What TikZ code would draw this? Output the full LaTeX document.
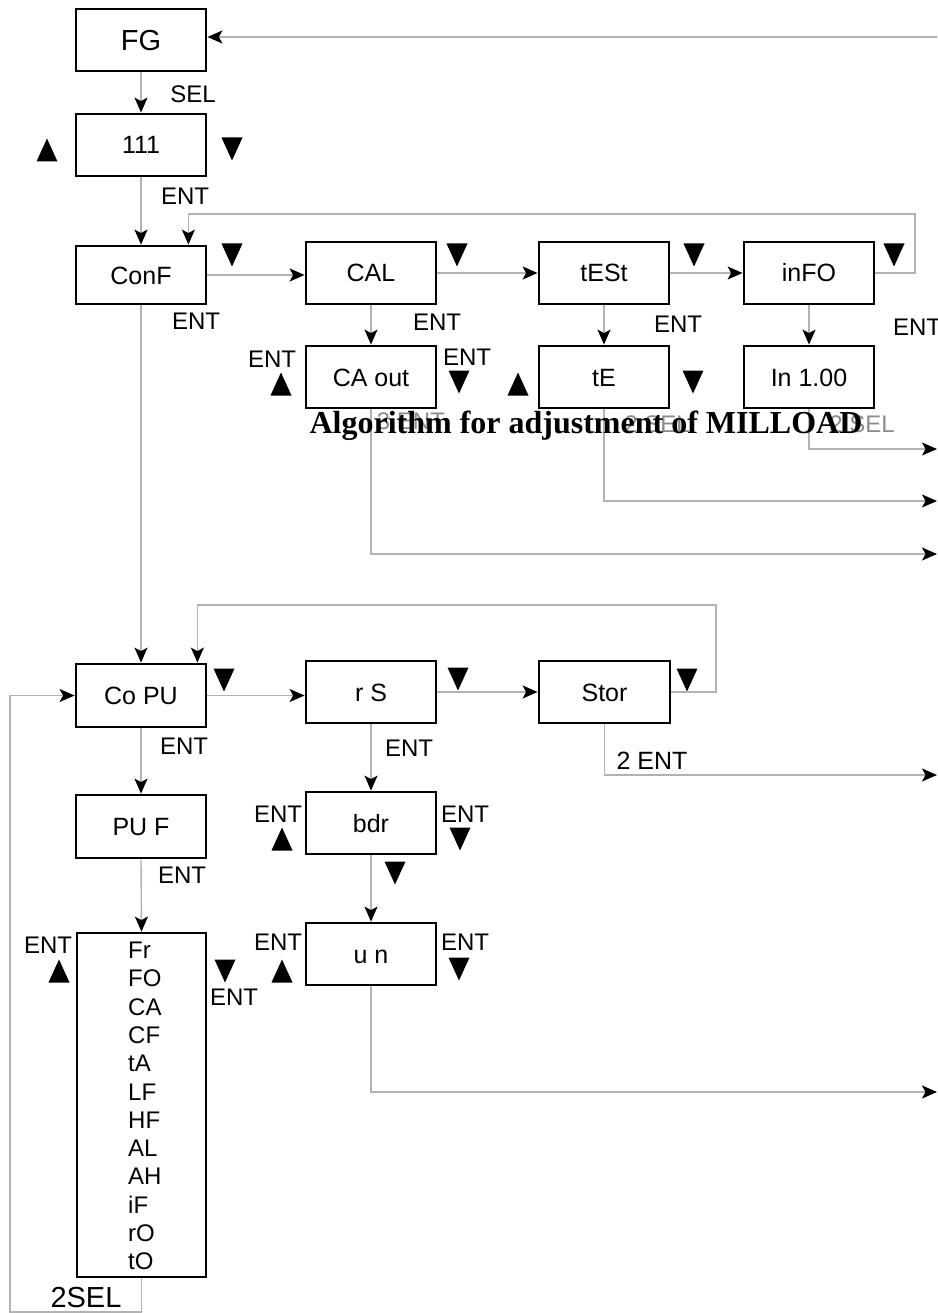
\documentclass[tikz,border=0pt]{standalone}
\usepackage{fontspec}
\setmainfont{Liberation Sans}
\newfontfamily\titlefont{Liberation Serif}
\usetikzlibrary{arrows.meta,calc}
\begin{document}
\begin{tikzpicture}[x=1pt,y=-1pt,
 box/.style={draw=black,line width=2.8pt,minimum width=130pt,minimum height=62pt,inner sep=0pt,font=\fontsize{25}{25}\selectfont,text height=18pt,text depth=0pt},
 lbl/.style={inner sep=0pt,font=\fontsize{24}{24}\selectfont,text height=17.2pt,text depth=0pt},
 biglbl/.style={inner sep=0pt,font=\fontsize{29}{29}\selectfont,text height=20.8pt,text depth=0pt},
 faint/.style={lbl,text=black!45},
 item/.style={inner sep=0pt,font=\fontsize{24}{24}\selectfont},
 conn/.style={draw=gray!60,line width=1.4pt,-{Stealth[black,length=15pt,width=13pt,inset=3.5pt]}},
 wire/.style={draw=gray!60,line width=1.4pt},
 uptri/.pic={\fill (-10.5,11.5) -- (10.5,11.5) -- (0,-11.5) -- cycle;},
 dntri/.pic={\fill (-10.5,-11.5) -- (10.5,-11.5) -- (0,11.5) -- cycle;}
]
\fill[white] (0,0) rectangle (937,1313);
\useasboundingbox (0,0) rectangle (937,1313);

% boxes
\node[box,font=\fontsize{29}{29}\selectfont,text height=20.8pt] (FG) at (141,40) {FG};
\node[box] (n111) at (141,145) {111};
\node[box,minimum height=58pt] (ConF) at (141,275) {ConF};
\node[box] (CAL) at (371,273) {CAL};
\node[box] (tESt) at (604,273) {tESt};
\node[box] (inFO) at (809,273) {inFO};
\node[box] (CAout) at (371,377) {CA out};
\node[box] (tE) at (604,377) {tE};
\node[box] (In) at (809,377) {In 1.00};
\node[box,minimum height=63pt] (CoPU) at (141,695.5) {Co PU};
\node[box] (rS) at (371,692) {r S};
\node[box,minimum width=131pt] (Stor) at (604.5,692) {Stor};
\node[box,minimum height=63pt] (PUF) at (141,826.5) {PU F};
\node[box] (bdr) at (371,823) {bdr};
\node[box] (un) at (371,954) {u n};
\node[box,minimum width=129pt,minimum height=344pt] (list) at (141.5,1105) {};
\foreach \t [count=\i from 0] in {Fr,FO,CA,CF,tA,LF,HF,AL,AH,iF,rO,tO}
  \node[item,anchor=base west] (it\i) at (128,958.5+28.3*\i) {\t};

% labels
\node[lbl] (lSEL) at (193,94) {SEL};
\node[lbl] (l111) at (185,196) {ENT};
\node[lbl] (lConF) at (196,321) {ENT};
\node[lbl] (lCAL) at (437,322) {ENT};
\node[lbl] (lCAoL) at (272,359) {ENT};
\node[lbl] (lCAoR) at (467,357) {ENT};
\node[lbl] (ltESt) at (678,324) {ENT};
\node[lbl] (linFO) at (917,327) {ENT};
\node[lbl] (lCoPU) at (184,746) {ENT};
\node[lbl] (lrS) at (409,748) {ENT};
\node[lbl] (lbdrL) at (278,814) {ENT};
\node[lbl] (lbdrR) at (465,814) {ENT};
\node[lbl] (lPUF) at (182,875) {ENT};
\node[lbl,font=\fontsize{25}{25}\selectfont] (lStor) at (652,761) {2 ENT};
\node[lbl] (llistL) at (48,945) {ENT};
\node[lbl] (llistR) at (234,997) {ENT};
\node[lbl] (lunL) at (278,942) {ENT};
\node[lbl] (lunR) at (465,942) {ENT};
\node[biglbl] (l2SEL) at (86,1297) {2SEL};
\node[faint] (f1) at (411,421) {3 ENT};
\node[faint] (f2) at (657,424) {2 SEL};
\node[faint] (f3) at (862,424) {2 SEL};

% triangles
\pic at (47,150) {uptri};
\pic at (232,149) {dntri};
\pic at (232,255) {dntri};
\pic at (457,255) {dntri};
\pic at (694,255) {dntri};
\pic at (894,255) {dntri};
\pic at (281,384) {uptri};
\pic at (459,382) {dntri};
\pic at (518,384) {uptri};
\pic at (693,382) {dntri};
\pic at (224,680) {dntri};
\pic at (458,679) {dntri};
\pic at (687,680) {dntri};
\pic at (282,839) {uptri};
\pic at (460,839) {dntri};
\pic at (395,873) {dntri};
\pic at (59,971) {uptri};
\pic at (225,971) {dntri};
\pic at (282,971) {uptri};
\pic at (459,969) {dntri};

% connectors
\coordinate (inFG) at (937,37);
\draw[conn] (inFG) -- (inFG -| FG.east);
\draw[conn] (FG.south) -- (n111.north);
\draw[conn] (n111.south) -- (ConF.north);
\draw[conn] (ConF.east) -- (ConF.east -| CAL.west);
\draw[conn] (CAL.east) -- (tESt.west);
\draw[conn] (tESt.east) -- (inFO.west);
\coordinate (loopA) at (915,214);
\draw[conn] (inFO.east) -| (loopA) -| ([xshift=-19pt]ConF.north east);
\draw[conn] (CAL.south) -- (CAout.north);
\draw[conn] (tESt.south) -- (tE.north);
\draw[conn] (inFO.south) -- (In.north);
\coordinate (o1) at (937,449);
\coordinate (o2) at (937,501);
\coordinate (o3) at (937,554);
\coordinate (o4) at (937,775);
\coordinate (o5) at (937,1092);
\draw[conn] (In.south) |- (o1);
\draw[conn] (tE.south) |- (o2);
\draw[conn] (CAout.south) |- (o3);
\draw[conn] (ConF.south) -- (CoPU.north);
\draw[conn] (CoPU.east) -- (CoPU.east -| rS.west);
\draw[conn] (rS.east) -- (Stor.west);
\coordinate (loopB) at (716,605);
\draw[conn] (Stor.east) -| (loopB) -| ([xshift=-10pt]CoPU.north east);
\draw[conn] (Stor.south) |- (o4);
\draw[conn] (CoPU.south) -- (PUF.north);
\draw[conn] (PUF.south) -- (list.north);
\draw[conn] (rS.south) -- (bdr.north);
\draw[conn] (bdr.south) -- (un.north);
\draw[conn] (un.south) |- (o5);
\coordinate (loopC) at (10,1312);
\draw[conn] (list.south) |- (loopC) |- (CoPU.west);

% title
\node[inner sep=0pt,font=\titlefont\bfseries\fontsize{32}{32}\selectfont,anchor=base] (title) at (586,433) {Algorithm for adjustment of MILLOAD};
\end{tikzpicture}
\end{document}
